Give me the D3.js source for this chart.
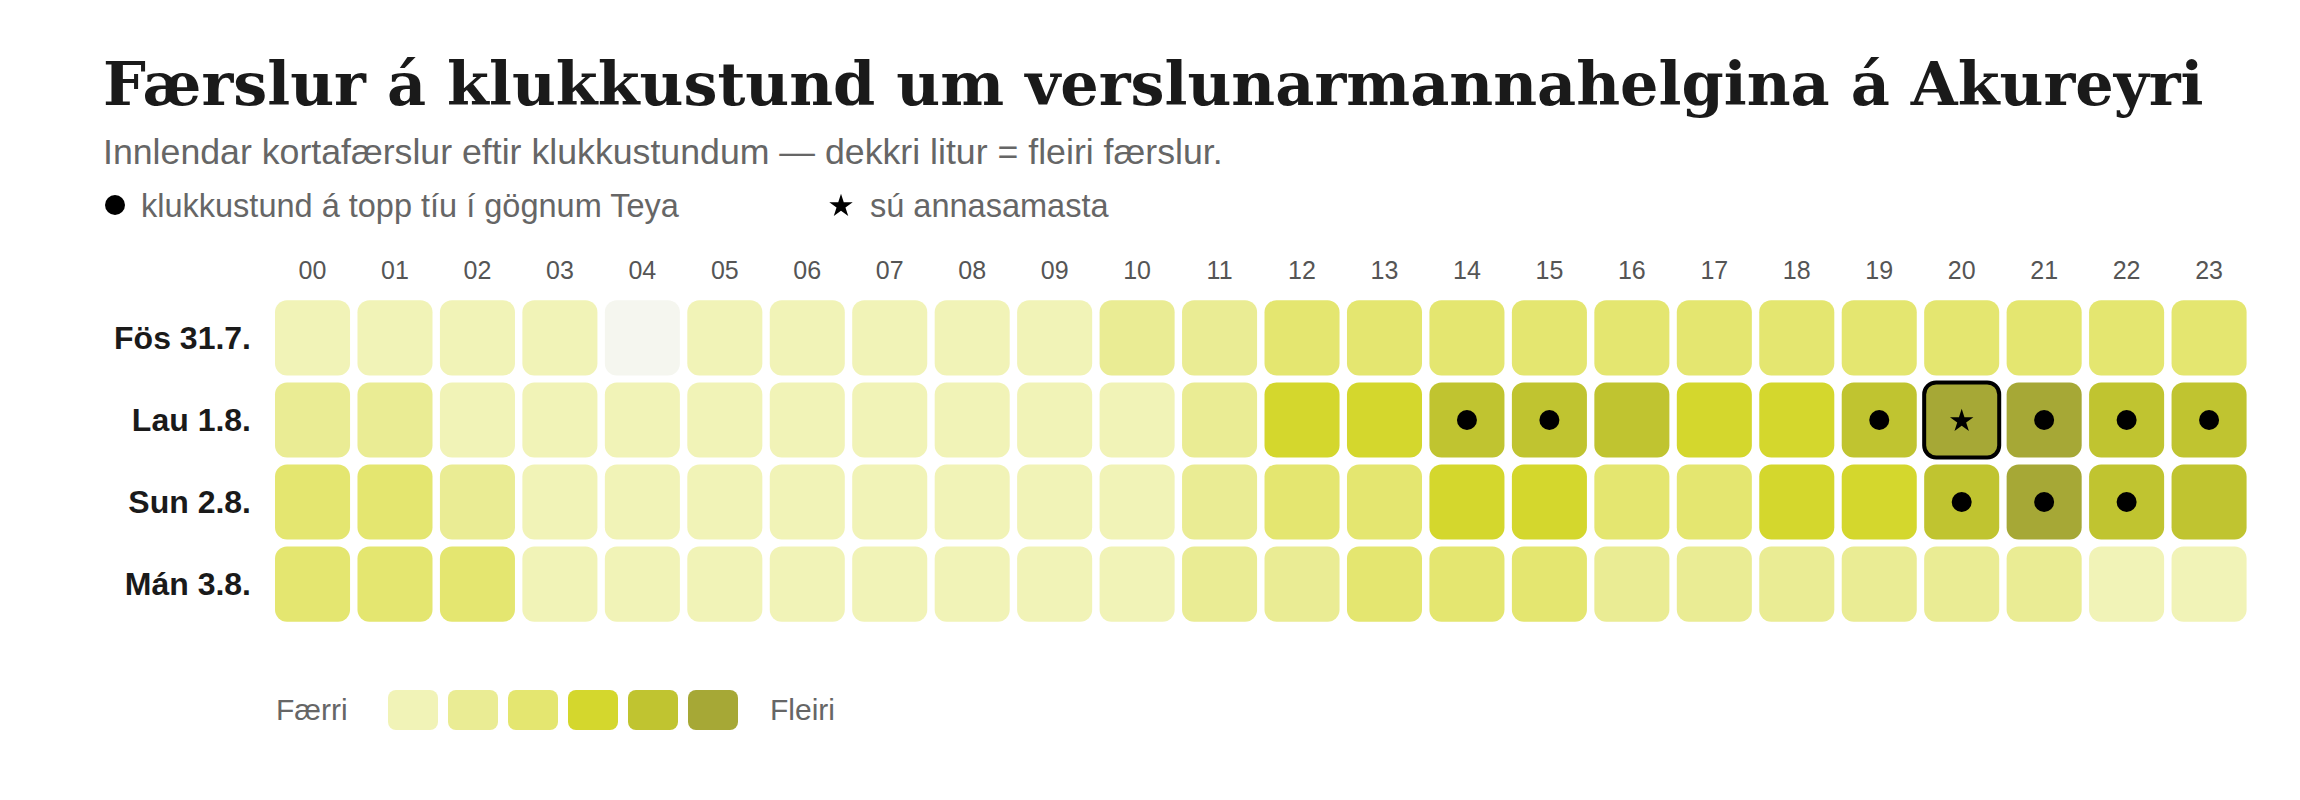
<!DOCTYPE html>
<html lang="is">
<head>
  <meta charset="UTF-8">
  <title>Færslur á klukkustund</title>
  <script src="https://cdn.jsdelivr.net/npm/d3@7"></script>
  <style>
    body { margin: 0; background: #fff; }
    text { font-family: "Liberation Sans", Arial, sans-serif; }
  </style>
</head>
<body>
  <div id="main" style="width: 2300px; height: 800px"></div>
  <script>
    // gögn: færslur á klukkustund, einn listi per dag
    var days = ["Fös 31.7.", "Lau 1.8.", "Sun 2.8.", "Mán 3.8."];
    var hours = ["00", "01", "02", "03", "04", "05", "06", "07", "08", "09", "10", "11",
      "12", "13", "14", "15", "16", "17", "18", "19", "20", "21", "22", "23"];
    var fos = [820, 640, 470, 290, 60, 180, 240, 390, 560, 780, 1240, 1560,
      2350, 2420, 2510, 2580, 2620, 2550, 2480, 2690, 2740, 2810, 2660, 2470];
    var lau = [1710, 1420, 880, 530, 350, 210, 260, 410, 590, 830, 960, 1380,
      3520, 3610, 4580, 4490, 4310, 3480, 3390, 4520, 5620, 5310, 4710, 4430];
    var sun = [2210, 2130, 1530, 870, 510, 270, 190, 330, 480, 690, 920, 1610,
      2290, 2080, 3250, 3310, 2460, 2370, 3440, 3580, 4650, 5180, 4470, 4280];
    var man = [2150, 2060, 2020, 910, 540, 230, 170, 290, 450, 670, 880, 1290,
      1820, 2110, 2240, 2180, 1760, 1690, 1570, 1480, 1350, 1120, 940, 780];
    var thresholds = [100, 1000, 2000, 3000, 4000, 5000];
    var colors = ["#f5f6ef", "#f1f3b7", "#eaec94", "#e4e670", "#d4d72d", "#c0c430", "#a6a836"];

    var width = 2300, height = 800;
    var svg = d3.select("#main").append("svg")
      .attr("width", width)
      .attr("height", height);

    // haus
    svg.append("text")
      .attr("x", 103).attr("y", 105)
      .style("font-family", "'DejaVu Serif', serif")
      .style("font-weight", "bold")
      .style("font-size", "60.4px")
      .attr("fill", "#1a1a1a")
      .text("Færslur á klukkustund um verslunarmannahelgina á Akureyri");

    svg.append("text")
      .attr("x", 103).attr("y", 164)
      .style("font-size", "35.7px")
      .attr("fill", "#666")
      .text("Innlendar kortafærslur eftir klukkustundum — dekkri litur = fleiri færslur.");

    // skýringar efst
    svg.append("circle").attr("cx", 115).attr("cy", 205).attr("r", 10).attr("fill", "#000");
    svg.append("text").attr("x", 141).attr("y", 217)
      .style("font-size", "32.5px").attr("fill", "#666")
      .text("klukkustund á topp tíu í gögnum Teya");
    var star = d3.symbol().type(d3.symbolStar);
    svg.append("path").attr("d", star.size(170)())
      .attr("transform", "translate(841,206)").attr("fill", "#000");
    svg.append("text").attr("x", 870).attr("y", 217)
      .style("font-size", "32.5px").attr("fill", "#666")
      .text("sú annasamasta");

    // kvarðar
    var x = d3.scaleBand().domain(hours).range([271.3, 2250.3]).paddingInner(0.09).paddingOuter(0.045);
    var y = d3.scaleBand().domain(days).range([297, 625]).paddingInner(0.085).paddingOuter(0.04);
    var color = d3.scaleThreshold().domain(thresholds).range(colors);

    var rows = [fos, lau, sun, man];
    var cells = [];
    rows.forEach(function (vals, i) {
      vals.forEach(function (v, j) {
        cells.push({ day: days[i], hour: hours[j], value: v });
      });
    });
    var ranked = cells.slice().sort(function (a, b) { return b.value - a.value; });
    var topTen = ranked.slice(0, 10);
    var busiest = ranked[0];

    // klukkustundir
    svg.append("g").selectAll("text").data(hours).enter().append("text")
      .attr("x", function (d) { return x(d) + x.bandwidth() / 2; })
      .attr("y", 279)
      .attr("text-anchor", "middle")
      .style("font-size", "25px")
      .attr("fill", "#555")
      .text(function (d) { return d; });

    // dagar
    svg.append("g").selectAll("text").data(days).enter().append("text")
      .attr("x", 251)
      .attr("y", function (d) { return y(d) + y.bandwidth() / 2; })
      .attr("dy", "0.35em")
      .attr("text-anchor", "end")
      .style("font-size", "32px")
      .style("font-weight", "bold")
      .attr("fill", "#1a1a1a")
      .text(function (d) { return d; });

    // reitir
    svg.append("g").selectAll("rect").data(cells).enter().append("rect")
      .attr("x", function (d) { return x(d.hour); })
      .attr("y", function (d) { return y(d.day); })
      .attr("width", x.bandwidth())
      .attr("height", y.bandwidth())
      .attr("rx", 12)
      .attr("fill", function (d) { return color(d.value); })
      .attr("stroke", function (d) { return d === busiest ? "#000" : "none"; })
      .attr("stroke-width", 4);

    // merki fyrir topp tíu
    svg.append("g").selectAll("circle").data(topTen.slice(1)).enter().append("circle")
      .attr("cx", function (d) { return x(d.hour) + x.bandwidth() / 2; })
      .attr("cy", function (d) { return y(d.day) + y.bandwidth() / 2; })
      .attr("r", 10)
      .attr("fill", "#000");

    svg.append("path").attr("d", star.size(170)())
      .attr("transform", "translate(" + (x(busiest.hour) + x.bandwidth() / 2) + "," + (y(busiest.day) + y.bandwidth() / 2 + 1) + ")")
      .attr("fill", "#000");

    // litakvarði neðst
    svg.append("text").attr("x", 276).attr("y", 720)
      .style("font-size", "30px").attr("fill", "#666").text("Færri");
    svg.append("g").selectAll("rect").data(colors.slice(1)).enter().append("rect")
      .attr("x", function (d, i) { return 388 + i * 60; })
      .attr("y", 690)
      .attr("width", 50)
      .attr("height", 40)
      .attr("rx", 8)
      .attr("fill", function (d) { return d; });
    svg.append("text").attr("x", 770).attr("y", 720)
      .style("font-size", "30px").attr("fill", "#666").text("Fleiri");
  </script>
</body>
</html>
